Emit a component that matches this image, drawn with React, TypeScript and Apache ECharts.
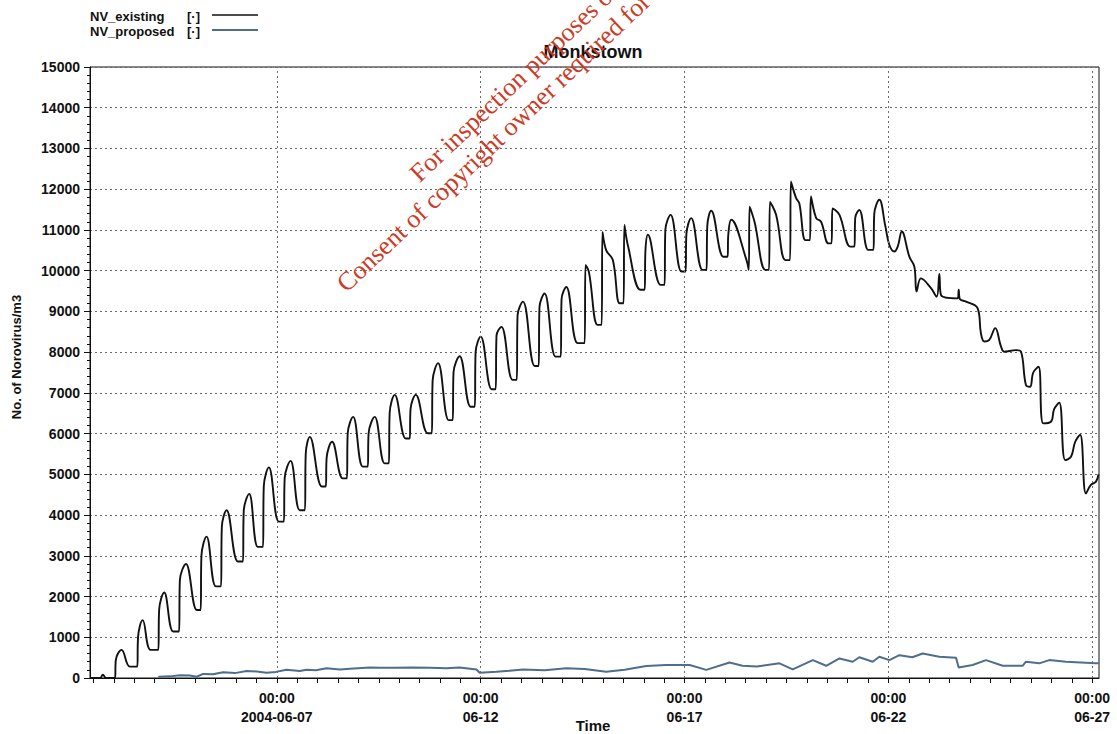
import React, { useEffect, useRef } from 'react';
import * as echarts from 'echarts';

// Time is expressed in hours since 2004-06-02 00:00
const xMin = 10;
const xMax = 604;
const xLabelHours = [120, 240, 360, 480, 600];
const xLabelTexts = ['00:00\n2004-06-07', '00:00\n06-12', '00:00\n06-17', '00:00\n06-22', '00:00\n06-27'];
const xTickHours = Array.from({ length: 50 }, (_, i) => 12 + i * 12);

const yMin = 0;
const yMax = 15000;
const yInterval = 1000;

const seriesNames = ['NV_existing', 'NV_proposed'];

const nvExisting: [number, number][] = [
  [10, 0], [15.9, 0], [17.6, 80], [19.4, 0], [24.7, 0],
  [25.2, 440], [28.6, 690], [33.5, 280], [37.8, 280],
  [38.3, 1010], [41.0, 1420], [45.7, 690], [50.2, 690],
  [50.7, 1670], [53.7, 2100], [59.0, 1140], [62.4, 1140],
  [62.9, 2400], [66.5, 2800], [72.9, 1670], [75.1, 1670],
  [75.6, 3000], [78.6, 3470], [84.1, 2250], [87.1, 2250],
  [87.6, 3700], [90.4, 4120], [97.1, 2860], [100.0, 2860],
  [100.5, 4100], [103.7, 4520], [108.8, 3220], [111.8, 3220],
  [112.3, 4700], [115.3, 5170], [121.2, 3840], [124.1, 3840],
  [124.6, 4900], [128.1, 5330], [133.5, 4120], [136.5, 4120],
  [137.0, 5500], [139.4, 5920], [146.5, 4700], [148.8, 4700],
  [149.3, 5400], [152.5, 5800], [158.8, 4900], [161.2, 4900],
  [161.7, 6000], [164.9, 6410], [170.6, 5190], [173.5, 5190],
  [174.0, 6000], [177.6, 6410], [183.5, 5270], [185.9, 5270],
  [186.4, 6500], [189.4, 6950], [195.9, 5880], [198.2, 5880],
  [198.7, 6600], [201.8, 6950], [208.8, 6010], [211.2, 6010],
  [211.7, 7300], [214.9, 7730], [221.2, 6330], [223.5, 6330],
  [224.0, 7500], [227.6, 7900], [234.1, 6660], [236.5, 6660],
  [237.0, 8000], [240.0, 8380], [246.5, 7090], [248.8, 7090],
  [249.3, 8400], [252.2, 8620], [258.8, 7320], [261.2, 7320],
  [261.7, 8900], [264.9, 9240], [271.8, 7660], [274.1, 7660],
  [274.6, 9100], [277.6, 9440], [284.1, 7890], [287.1, 7890],
  [287.6, 9300], [290.4, 9600], [297.1, 8220], [301.2, 8220],
  [301.7, 10140], [303.7, 9970], [308.8, 8670], [311.2, 8670],
  [311.7, 10950], [313.9, 10500], [317.8, 10260], [321.8, 9200], [324.1, 9200],
  [324.6, 11120], [326.6, 10630], [334.1, 9530], [336.5, 9530],
  [337.0, 10500], [338.4, 10880], [345.9, 9650], [348.2, 9650],
  [348.7, 11000], [351.8, 11370], [358.2, 9980], [360.6, 9980],
  [361.1, 10900], [363.9, 11290], [370.6, 10020], [372.9, 10020],
  [373.4, 11100], [375.7, 11470], [382.9, 10340], [385.3, 10340],
  [385.8, 10900], [387.5, 11250], [396.5, 10260], [397.8, 10020],
  [398.3, 11570], [401.2, 11200], [407.6, 10020], [409.7, 10020],
  [410.3, 11690], [413.9, 11370], [419.4, 10260], [422.1, 10260],
  [422.6, 12190], [425.7, 11780], [427.6, 11650], [431.2, 10750], [433.8, 10750],
  [434.4, 11820], [437.5, 11290], [440.4, 11200], [444.7, 10670], [446.5, 10670],
  [447.1, 11530], [451.2, 11370], [457.6, 10590], [460.0, 10590],
  [460.5, 11300], [462.9, 11490], [468.2, 10510], [471.2, 10510],
  [471.7, 11400], [474.7, 11740], [478.2, 11100], [480.6, 10630],
  [483.5, 10470], [485.5, 10590], [487.9, 10960], [492.4, 10340],
  [495.3, 10100], [496.6, 9490], [499.2, 9810], [505.1, 9570],
  [508.4, 9360], [510.0, 9920], [511.0, 9400], [520.8, 9320],
  [521.4, 9530], [522.1, 9300], [525.7, 9240], [532.5, 9080],
  [534.5, 8460], [536.5, 8260], [539.4, 8300], [542.9, 8590],
  [546.3, 8140], [548.2, 8010], [555.1, 8050], [558.1, 8010],
  [561.0, 7190], [563.4, 7150], [565.3, 7500], [568.4, 7640],
  [571.2, 6250], [575.7, 6290], [577.6, 6600], [580.6, 6760],
  [584.1, 5350], [587.5, 5430], [590.0, 5800], [592.9, 5970],
  [596.3, 4530], [599.2, 4740], [602.2, 4820], [603.7, 5000],
];

const nvProposed: [number, number][] = [
  [50.2, 30], [57.1, 40], [62.9, 70], [68.8, 60], [72.8, 30], [76.6, 100],
  [82.4, 90], [88.4, 140], [95.3, 120], [102.2, 170], [108.2, 160], [113.9, 130],
  [119.4, 150], [125.7, 200], [133.5, 170], [137.5, 200], [143.0, 190], [149.2, 240],
  [157.1, 210], [163.0, 230], [174.7, 260], [180.6, 250], [189.4, 250], [200.0, 260],
  [210.0, 250], [219.8, 240], [227.6, 260], [237.5, 210], [239.4, 130], [249.2, 155],
  [257.0, 180], [264.9, 210], [277.6, 190], [290.4, 240], [301.2, 220], [313.9, 155],
  [324.7, 200], [337.5, 295], [349.2, 320], [363.0, 320], [372.8, 200], [386.5, 380],
  [394.1, 300], [402.5, 280], [415.9, 360], [423.7, 210], [435.5, 440], [443.4, 300],
  [451.2, 480], [459.0, 400], [462.9, 510], [470.8, 400], [474.7, 520], [480.6, 440],
  [486.5, 560], [494.1, 510], [500.2, 600], [510.0, 520], [519.8, 500], [521.4, 260],
  [529.6, 320], [537.5, 440], [547.3, 300], [559.0, 300], [561.0, 400], [568.8, 360],
  [574.7, 440], [584.5, 400], [602.2, 360], [604.0, 360],
];

const watermarkLines = ['For inspection purposes only.', 'Consent of copyright owner required for any other use.'];

const FONT = '"Liberation Sans", Arial, sans-serif';
const BLACK = '#111111';
const BLUE = '#4f6d8c';

export default function App() {
  const ref = useRef<HTMLDivElement>(null);

  useEffect(() => {
    if (!ref.current) return;
    const chart = echarts.init(ref.current, undefined, { renderer: 'svg' });
    const rot = (43.5 * Math.PI) / 180;
    const option: any = {
      animation: false,
      backgroundColor: '#ffffff',
      grid: {
        left: 90,
        top: 67,
        right: 18,
        bottom: 56,
        show: true,
        borderColor: BLACK,
        borderWidth: 1,
        backgroundColor: 'transparent',
        outerBoundsMode: 'none',
      },
      xAxis: {
        type: 'value',
        min: xMin,
        max: xMax,
        axisLine: { show: true, onZero: false, lineStyle: { color: BLACK, width: 1 } },
        axisTick: { show: true, customValues: xTickHours, length: 5, lineStyle: { color: BLACK } },
        splitLine: { show: false },
        axisLabel: {
          customValues: xLabelHours,
          margin: 10,
          color: BLACK,
          fontFamily: FONT,
          fontWeight: 'bold',
          fontSize: 14,
          lineHeight: 19,
          formatter: (v: number) => {
            const i = xLabelHours.indexOf(Math.round(v));
            return i >= 0 ? xLabelTexts[i] : '';
          },
        },
      },
      yAxis: {
        type: 'value',
        min: yMin,
        max: yMax,
        interval: yInterval,
        axisLine: { show: true, lineStyle: { color: BLACK, width: 1 } },
        axisTick: { show: true, length: 6, lineStyle: { color: BLACK } },
        minorTick: { show: true, splitNumber: 5, length: 3, lineStyle: { color: BLACK } },
        splitLine: { show: true, lineStyle: { color: '#6a6a6a', type: [2, 3], width: 1 } },
        axisLabel: {
          margin: 10,
          color: BLACK,
          fontFamily: FONT,
          fontWeight: 'bold',
          fontSize: 14,
          formatter: (v: number) => String(v),
        },
      },
      series: [
        {
          name: seriesNames[1],
          type: 'line',
          data: nvProposed,
          showSymbol: false,
          symbol: 'none',
          z: 2,
          lineStyle: { color: BLUE, width: 2 },
          markLine: {
            silent: true,
            symbol: ['none', 'none'],
            label: { show: false },
            lineStyle: { color: '#6a6a6a', type: [2, 3], width: 1 },
            data: xLabelHours.map((h) => ({ xAxis: h })),
          },
        },
        {
          name: seriesNames[0],
          type: 'line',
          data: nvExisting,
          showSymbol: false,
          symbol: 'none',
          smooth: 0.4,
          z: 3,
          lineStyle: { color: BLACK, width: 1.9 },
        },
      ],
      graphic: [
        { type: 'text', x: 90, y: 16, style: { text: seriesNames[0], font: `bold 13px ${FONT}`, fill: BLACK, textVerticalAlign: 'middle' } },
        { type: 'text', x: 187, y: 16, style: { text: '[·]', font: `bold 13px ${FONT}`, fill: BLACK, textVerticalAlign: 'middle' } },
        { type: 'line', shape: { x1: 212, y1: 15, x2: 258, y2: 15 }, style: { stroke: BLACK, lineWidth: 1.5 } },
        { type: 'text', x: 90, y: 31, style: { text: seriesNames[1], font: `bold 13px ${FONT}`, fill: BLACK, textVerticalAlign: 'middle' } },
        { type: 'text', x: 187, y: 31, style: { text: '[·]', font: `bold 13px ${FONT}`, fill: BLACK, textVerticalAlign: 'middle' } },
        { type: 'line', shape: { x1: 212, y1: 30, x2: 258, y2: 30 }, style: { stroke: BLUE, lineWidth: 2 } },
        { type: 'text', x: 593, y: 52, style: { text: 'Monkstown', font: `bold 18px ${FONT}`, fill: BLACK, textAlign: 'center', textVerticalAlign: 'middle' } },
        { type: 'text', x: 593, y: 725, style: { text: 'Time', font: `bold 15px ${FONT}`, fill: BLACK, textAlign: 'center', textVerticalAlign: 'middle' } },
        { type: 'text', x: 16, y: 357, rotation: Math.PI / 2, style: { text: 'No. of Norovirus/m3', font: `bold 13px ${FONT}`, fill: BLACK, textAlign: 'center', textVerticalAlign: 'middle' } },
        { type: 'text', x: 414, y: 177, rotation: rot, z: 100, style: { text: watermarkLines[0], font: `26px "Liberation Serif", "Times New Roman", serif`, fill: '#cc3b26', textAlign: 'left', textVerticalAlign: 'middle' } },
        { type: 'text', x: 341, y: 287, rotation: rot, z: 100, style: { text: watermarkLines[1], font: `26px "Liberation Serif", "Times New Roman", serif`, fill: '#cc3b26', textAlign: 'left', textVerticalAlign: 'middle' } },
      ],
    };
    chart.setOption(option);
    return () => chart.dispose();
  }, []);

  return <div ref={ref} style={{ position: 'fixed', left: 0, top: 0, width: 1117, height: 734, background: '#fff' }} />;
}
